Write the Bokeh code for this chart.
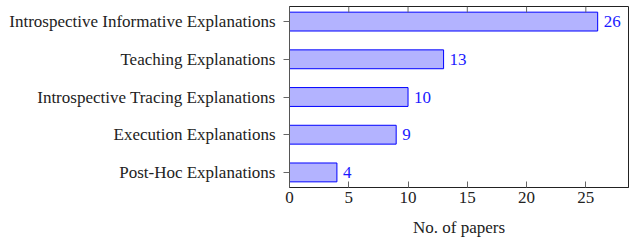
import math
from bokeh.plotting import figure
from bokeh.models import Range1d, FixedTicker, ColumnDataSource, LabelSet
from bokeh.embed import file_html
from bokeh.resources import INLINE

categories = ["Post-Hoc Explanations", "Execution Explanations",
              "Introspective Tracing Explanations", "Teaching Explanations",
              "Introspective Informative Explanations"]
counts = [4, 9, 10, 13, 26]
x_ticks = [0, 5, 10, 15, 20, 25]
x_max = 28.6

FONT = "Liberation Serif"
FS = "17px"

pos = list(range(len(categories)))
y_lo, y_hi = -0.4, len(categories) - 0.6
src = ColumnDataSource(dict(y=pos, v=counts, lab=[str(c) for c in counts]))

p = figure(output_backend="svg", toolbar_location=None,
           frame_width=339, frame_height=181,
           x_range=Range1d(0, x_max), y_range=Range1d(y_lo, y_hi),
           min_border_left=289, min_border_right=1, min_border_top=6, min_border_bottom=54,
           x_axis_label="No. of papers")
p.grid.visible = False
p.outline_line_color = "#222222"
p.outline_line_width = 1
p.background_fill_color = "white"
p.border_fill_color = "white"

p.hbar(y="y", right="v", left=0, height=0.5, source=src,
       fill_color="#b3b3ff", line_color="#0000ff", line_width=1)

# inward tick marks along the top edge of the frame
p.ray(x=x_ticks, y=[y_hi] * len(x_ticks), length=6, length_units="screen",
      angle=-math.pi / 2, line_color="#666666", line_width=1)

labels = LabelSet(x="v", y="y", text="lab", source=src, x_offset=6,
                  text_color="#1a1aff", text_font=FONT, text_font_size=FS,
                  text_baseline="middle", text_align="left")
p.add_layout(labels)

xa = p.xaxis[0]
xa.ticker = FixedTicker(ticks=x_ticks)
xa.major_tick_in = 6
xa.major_tick_out = 0
xa.minor_tick_line_color = None
xa.major_tick_line_color = "#666666"
xa.axis_line_color = "#222222"
xa.major_label_text_font = FONT
xa.major_label_text_font_size = FS
xa.major_label_text_color = "#222222"
xa.major_label_standoff = 4
xa.axis_label_text_font = FONT
xa.axis_label_text_font_size = FS
xa.axis_label_text_font_style = "normal"
xa.axis_label_text_color = "#222222"
xa.axis_label_standoff = 12

ya = p.yaxis[0]
ya.ticker = FixedTicker(ticks=pos)
ya.major_label_overrides = {i: c for i, c in enumerate(categories)}
ya.major_tick_in = 0
ya.major_tick_out = 6
ya.minor_tick_line_color = None
ya.major_tick_line_color = "#666666"
ya.axis_line_color = "#555555"
ya.major_label_text_font = FONT
ya.major_label_text_font_size = FS
ya.major_label_text_color = "#222222"
ya.major_label_standoff = 8

open("out.html", "w").write(file_html(p, INLINE))
